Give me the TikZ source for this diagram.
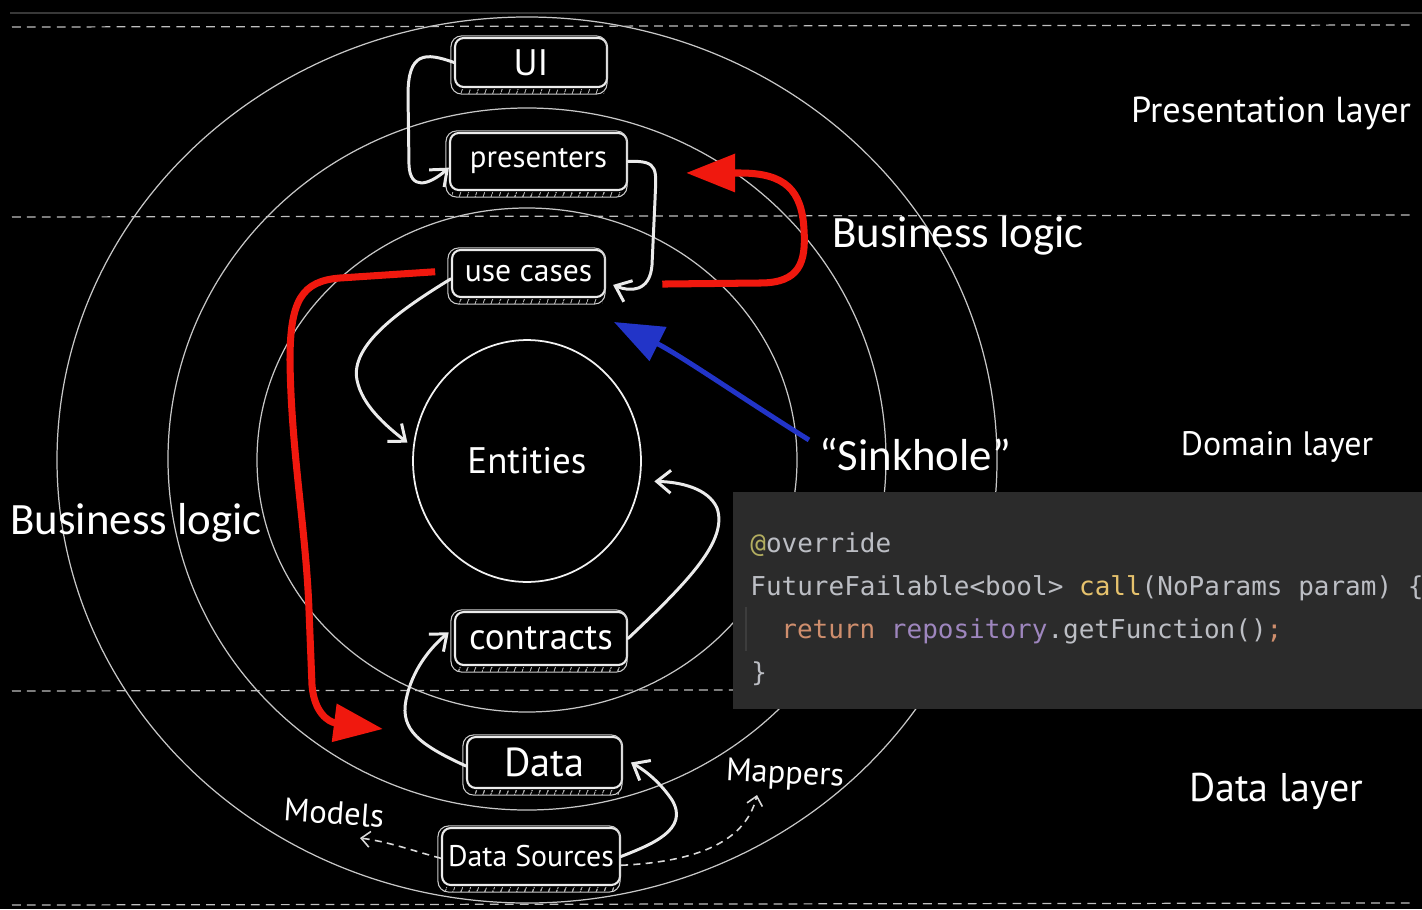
\documentclass[tikz,border=0pt]{standalone}
\usepackage{fontspec}
\setmainfont{PT Sans}
\newfontfamily\bigfont{Carlito}
\newfontfamily\codefont{DejaVu Sans Mono}
\usetikzlibrary{arrows.meta,shapes.geometric,patterns.meta,calc}
\definecolor{redmark}{RGB}{240,24,14}
\definecolor{bluemark}{RGB}{34,52,200}
\definecolor{codebg}{HTML}{2B2B2B}
\definecolor{codefg}{HTML}{BCBEC4}
\definecolor{annot}{HTML}{B3AE60}
\definecolor{fnname}{HTML}{E6C26D}
\definecolor{kw}{HTML}{CF8E6D}
\definecolor{field}{HTML}{9E86BE}
\tikzset{
        ring/.style={draw=white!78!black, line width=0.7pt},
        layerline/.style={draw=white!75!black, line width=0.7pt, dash pattern=on 5pt off 3.5pt},
        topbar/.style={draw=white!22!black, line width=1.2pt},
        box/.style={rectangle, draw=white!92!black, line width=1.2pt, rounded corners=5pt, fill=black, text=white, font=\fontsize{#1}{#1}\selectfont, inner sep=0pt},
        box/.default=17.5,
        shell/.style={draw=white!80!black, line width=0.6pt, rounded corners=6pt},
        hatch/.style={pattern={Lines[angle=70,distance=4pt,line width=0.5pt]}, pattern color=white!75!black},
        entity/.style={ellipse, draw=white!95!black, line width=1pt, minimum width=4.56cm, minimum height=4.84cm, text=white, font=\fontsize{21}{23}\selectfont},
        wire/.style={draw=white!92!black, line width=1.7pt, line cap=round, -{Straight Barb[length=8pt,width=13pt]}},
        dotwire/.style={draw=white!85!black, line width=0.9pt, dash pattern=on 4pt off 3pt, -{Straight Barb[length=5pt,width=9pt]}},
        redarrow/.style={draw=redmark, line width=4pt, -{Triangle[length=28pt,width=21pt]}},
        bluearrow/.style={draw=bluemark, line width=2.8pt, -{Triangle[length=28pt,width=21pt]}},
        layername/.style={text=white, inner sep=0pt, font=\fontsize{#1}{#1}\selectfont},
        layername/.default=20,
        smallname/.style={text=white, inner sep=0pt, font=\fontsize{18.5}{21}\selectfont},
        bigname/.style={text=white, inner sep=0pt, font=\bigfont\fontsize{25.5}{28}\selectfont},
        codebox/.style={fill=codebg, minimum width=13.78cm, minimum height=4.34cm, inner sep=0pt},
        codeline/.style={anchor=base west, inner sep=0pt, text=codefg, font=\codefont\fontsize{14.8}{16}\selectfont},
        guide/.style={draw=white!24!black, line width=0.8pt}
          }
\begin{document}
\begin{tikzpicture}[x=0.02cm, y=-0.02cm]
        \clip (0,0) rectangle (1422,909);
        \fill[black] (0,0) rectangle (1422,909);
        \draw[topbar] (10,13) -- (1422,13);
        \draw[ring] (527,460) ellipse [x radius=470, y radius=443];
        \draw[ring] (527,459) ellipse [x radius=359, y radius=351];
        \draw[ring] (527,460) ellipse [x radius=270, y radius=252];
        \foreach \y in {27,217,691,905}
          \draw[layerline] (12,\y) -- (1410,\y-2);

        \node[codebox] (code) at (1077.5,600.5) {};
        \node[codeline] (c1) at (750,552) {\textcolor{annot}{@}override};
        \node[codeline] (c2) at (750,595) {FutureFailable<bool> \textcolor{fnname}{call}(NoParams param) \{};
        \node[codeline] (c3) at (781,638) {\textcolor{kw}{return} \textcolor{field}{repository}.getFunction()\textcolor{kw}{;}};
        \node[codeline] (c4) at (751,681) {\}};
        \draw[guide] (746,607) -- (746,651);

        \node[entity] (ent) at (527,461) {Entities};
        \node[box=21, minimum width=3.04cm, minimum height=0.98cm] (ui) at (531,62.5) {UI};
        \node[box, minimum width=3.54cm, minimum height=1.14cm] (pres) at (538.5,161.5) {presenters};
        \node[box=18, minimum width=3.06cm, minimum height=0.94cm] (uc) at (528.5,273.5) {use cases};
        \node[box=21, minimum width=3.44cm, minimum height=1.06cm] (con) at (541,638.5) {contracts};
        \node[box=23, minimum width=3.10cm, minimum height=1.02cm] (dat) at (544.5,762.5) {Data};
        \node[box=17, minimum width=3.56cm, minimum height=1.14cm] (src) at (531,856.5) {Data Sources};
        \foreach \b in {ui,pres,uc,con,dat,src} {
          \draw[shell] ($(\b.north west)+(-3,-1)$) rectangle ($(\b.south east)+(-1,6)$);
          \fill[hatch] ($(\b.south west)+(3,1)$) rectangle ($(\b.south east)+(-4,5)$);
        }

        \node[layername=20.6] (lpres) at (1271,113) {Presentation layer};
        \node[layername=19.3] (ldom) at (1277,447) {Domain layer};
        \node[layername=22.8] (ldata) at (1276,791) {Data layer};
        \node[bigname] (bizr) at (958,236) {Business logic};
        \node[bigname] (bizl) at (136,523) {Business logic};
        \node[bigname] (sink) at (915,454) {“Sinkhole”};
        \node[smallname, rotate=-4] (models) at (334,813) {Models};
        \node[smallname, rotate=-3] (mappers) at (785,775) {Mappers};

        \draw[wire] (ui.west) .. controls (425,52) and (408,52) .. (408,95) -- (409,165) .. controls (410,190) and (428,186) .. ([yshift=-3.5pt]pres.west);
        \draw[wire] (pres.east) .. controls (660,160) and (656,170) .. (655,200) -- (652,265) .. controls (650,292) and (630,292) .. ([shift={(4pt,-6.5pt)}]uc.east);
        \draw[wire, shorten >=4pt] ([yshift=-3pt]uc.west) .. controls (400,310) and (350,345) .. (357,380) .. controls (362,405) and (385,425) .. (ent.173);
        \draw[wire, shorten >=8pt] (con.east) .. controls (690,580) and (728,540) .. (717,508) .. controls (708,488) and (680,482) .. (ent.350);
        \draw[wire] ([yshift=-2pt]dat.west) .. controls (420,745) and (400,730) .. (406,700) .. controls (412,670) and (430,648) .. ([shift={(-3pt,3.5pt)}]con.west);
        \draw[wire] (src.east) .. controls (650,845) and (690,830) .. (672,800) .. controls (662,785) and (648,772) .. ([xshift=4.5pt]dat.east);

        \coordinate (modtip) at (360,838);
        \coordinate (maptip) at (757,795);
        \draw[dotwire] ([yshift=-1pt]src.west) .. controls (410,850) and (390,842) .. (modtip);
        \draw[dotwire] ([yshift=-5pt]src.east) .. controls (690,862) and (745,845) .. (maptip);

        \coordinate (r1tip) at (383,729);
        \coordinate (sinktip) at (614,322);
        \draw[redarrow] ([shift={(-9pt,1pt)}]uc.west) -- (340,278) .. controls (302,281) and (290,300) .. (290,360) .. controls (291,450) and (306,530) .. (309,610) -- (312,685) .. controls (314,712) and (328,722) .. (r1tip);
        \draw[redarrow] ([shift={(32pt,-6pt)}]uc.east) -- (760,283) .. controls (800,283) and (806,262) .. (804,230) .. controls (802,190) and (785,173) .. (740,173) -- ([shift={(33pt,-6.5pt)}]pres.east);
        \draw[bluearrow] ([shift={(-5.5pt,8pt)}]sink.west) .. controls (745,400) and (680,355) .. (sinktip);
      \end{tikzpicture}
\end{document}
